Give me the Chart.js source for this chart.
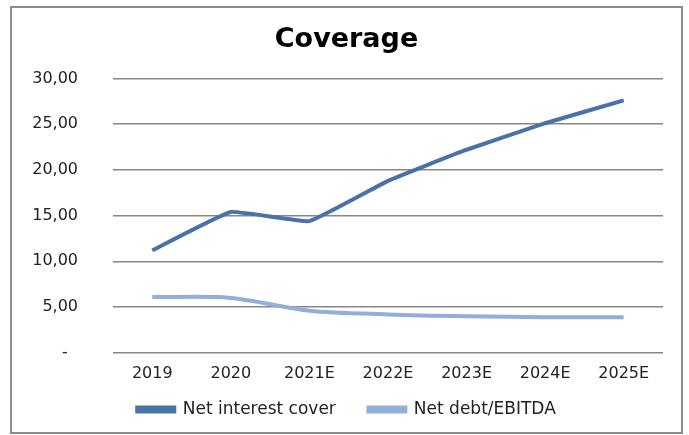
<!DOCTYPE html>
<html>
<head>
<meta charset="utf-8">
<script src="https://cdn.jsdelivr.net/npm/chart.js@4"></script>
<style>
  body { margin: 0; background: #fff; }
  #wrap {
    position: absolute; left: 10px; top: 6px;
    width: 669px; height: 424px;
    border: 2px solid #8c8c8c;
  }
</style>
</head>
<body>
<div id="wrap"><canvas id="myChart" width="669" height="424"></canvas></div>
<script>
// data -
var categories = ['2019', '2020', '2021E', '2022E', '2023E', '2024E', '2025E'];
var netInterestCover = [11.2, 15.4, 14.4, 18.8, 22.2, 25.1, 27.6];
var netDebtEbitda = [6.1, 6.0, 4.6, 4.2, 4.0, 3.9, 3.9];
var yTicks = [0, 5, 10, 15, 20, 25, 30];
// data |

var font = "'DejaVu Sans', sans-serif";

var ctx = document.getElementById('myChart');
var myChart = new Chart(ctx, {
  type: 'line',
  data: {
    labels: categories,
    datasets: [{
      label: 'Net interest cover',
      data: netInterestCover,
      borderColor: '#4a72a8',
      backgroundColor: '#4a72a8',
      borderWidth: 4,
      pointRadius: 0,
      tension: 0.1
    }, {
      label: 'Net debt/EBITDA',
      data: netDebtEbitda,
      borderColor: '#93aed8',
      backgroundColor: '#93aed8',
      borderWidth: 4,
      pointRadius: 0,
      tension: 0.3
    }]
  },
  options: {
    responsive: false,
    animation: false,
    layout: { padding: { left: 18, right: 18, top: 0, bottom: 4 } },
    scales: {
      x: {
        offset: true,
        grid: { display: false, drawTicks: false },
        border: { display: false },
        ticks: { color: '#222', font: { family: font, size: 16 }, padding: 11, maxRotation: 0, autoSkip: false }
      },
      y: {
        min: 0,
        max: 30,
        afterBuildTicks: function (scale) {
          scale.ticks = yTicks.map(function (v) { return { value: v }; });
        },
        afterFit: function (scale) { scale.width = 83; },
        grid: { color: '#878787', lineWidth: 1.6, drawTicks: false },
        border: { display: false },
        ticks: {
          color: '#222',
          font: { family: font, size: 16 },
          padding: 35,
          callback: function (v) {
            return v === 0 ? '-\u2007' : v.toFixed(2).replace('.', ',');
          }
        }
      }
    },
    plugins: {
      title: {
        display: true,
        text: 'Coverage',
        color: '#000',
        font: { family: font, size: 27, weight: 'bold' },
        padding: { top: 16, bottom: 22 }
      },
      legend: {
        position: 'bottom',
        maxHeight: 37,
        labels: {
          color: '#222',
          font: { family: font, size: 17 },
          boxWidth: 37,
          boxHeight: 4,
          padding: 7,
          generateLabels: function (chart) {
            var items = Chart.defaults.plugins.legend.labels.generateLabels(chart);
            // wider gap between the two entries
            items[0].text = items[0].text + '\u2003\u2002';
            return items;
          }
        }
      },
      tooltip: { enabled: false }
    }
  }
});
</script>
</body>
</html>
